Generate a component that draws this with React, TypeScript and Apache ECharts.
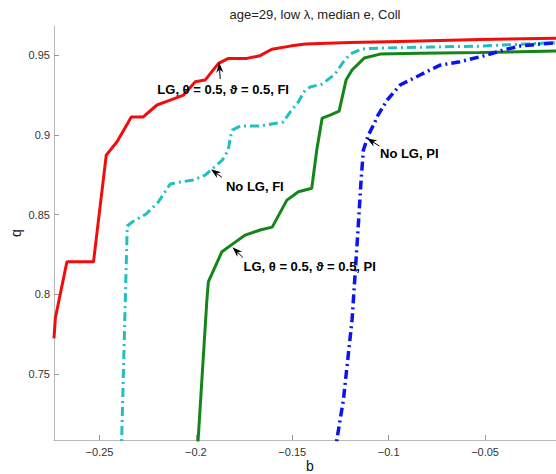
import React, { useEffect, useRef } from 'react';
import * as echarts from 'echarts';

const titleText = 'age=29, low λ, median e, Coll';
const xName = 'b';
const yName = 'q';
const xTicks = [-0.25, -0.2, -0.15, -0.1, -0.05];
const yTicks = [0.75, 0.8, 0.85, 0.9, 0.95];
const xMin = -0.2736;
const xMax = -0.0132;
const yMin = 0.7088;
const yMax = 0.9682;

// LG, theta=0.5, vartheta=0.5, FI (red)
const redB = [-0.2736, -0.2729, -0.2669, -0.2531, -0.2465, -0.2409, -0.2335, -0.2273, -0.2202, -0.2133, -0.2064, -0.2003, -0.1952, -0.1883, -0.1831, -0.1736, -0.1667, -0.1606, -0.1511, -0.1433, -0.12, -0.0941, -0.0526, -0.0132];
const redQ = [0.7725, 0.7852, 0.8205, 0.8205, 0.8873, 0.8957, 0.9112, 0.9112, 0.9187, 0.9218, 0.9249, 0.9333, 0.9343, 0.9448, 0.9479, 0.9479, 0.9496, 0.9536, 0.9556, 0.9569, 0.9578, 0.9585, 0.9597, 0.9605];

// No LG, FI (cyan)
const cyanB = [-0.2387, -0.2356, -0.2330, -0.2258, -0.2195, -0.2133, -0.2081, -0.2014, -0.1952, -0.1910, -0.1863, -0.1832, -0.1822, -0.1811, -0.1770, -0.1666, -0.1547, -0.1511, -0.1469, -0.1433, -0.1407, -0.1345, -0.1278, -0.1236, -0.12, -0.1138, -0.1044, -0.0785, -0.0526, -0.0132];
const cyanQ = [0.70, 0.8429, 0.8454, 0.8504, 0.8579, 0.8692, 0.8704, 0.8717, 0.8748, 0.8792, 0.8842, 0.8905, 0.898, 0.903, 0.9055, 0.9055, 0.908, 0.9143, 0.9206, 0.9281, 0.93, 0.9318, 0.9381, 0.9456, 0.9506, 0.9538, 0.9544, 0.955, 0.9556, 0.9578];

// LG, theta=0.5, vartheta=0.5, PI (green)
const greenB = [-0.1993, -0.1943, -0.1935, -0.1865, -0.1805, -0.1744, -0.1667, -0.1604, -0.1528, -0.1468, -0.1399, -0.1373, -0.1345, -0.1304, -0.1257, -0.1221, -0.119, -0.1127, -0.1044, -0.0837, -0.0526, -0.0132];
const greenQ = [0.70, 0.7965, 0.808, 0.8268, 0.832, 0.8372, 0.8404, 0.8422, 0.8591, 0.8643, 0.8665, 0.8905, 0.9105, 0.9124, 0.9149, 0.9343, 0.9406, 0.9481, 0.9506, 0.9511, 0.9516, 0.9525];

// No LG, PI (blue)
const blueB = [-0.1281, -0.1235, -0.119, -0.1159, -0.1143, -0.1131, -0.1105, -0.1079, -0.1055, -0.1008, -0.0941, -0.0837, -0.0733, -0.063, -0.049, -0.0406, -0.0318, -0.0215, -0.0132];
const blueQ = [0.70, 0.7338, 0.784, 0.8404, 0.8717, 0.8905, 0.8999, 0.9061, 0.9124, 0.9218, 0.9312, 0.9375, 0.9437, 0.9458, 0.95, 0.9531, 0.9556, 0.9569, 0.9577];

// annotations (data coordinates)
const annText = ['LG, θ = 0.5, ϑ = 0.5, FI', 'No LG, FI', 'LG, θ = 0.5, ϑ = 0.5, PI', 'No LG, PI'];
const annTipB = [-0.1879, -0.1922, -0.1810, -0.1113];
const annTipQ = [0.9453, 0.8784, 0.8295, 0.8978];
const annTailB = [-0.1874, -0.1865, -0.1756, -0.1048];
const annTailQ = [0.9350, 0.8734, 0.8232, 0.8930];
const annTextB = [-0.2200, -0.1844, -0.1753, -0.1045];
const annTextQ = [0.9281, 0.8679, 0.8178, 0.8884];

const FONT = '"Liberation Sans", Arial, Helvetica, sans-serif';

const zip = (a: number[], b: number[]) => a.map((v, i) => [v, b[i]]);
const fmt = (v: number) => (v < 0 ? '\u2212' : '') + String(Math.abs(Math.round(v * 1000) / 1000));

export default function App() {
  const ref = useRef<HTMLDivElement>(null);
  useEffect(() => {
    document.body.style.margin = '0';
    const chart = echarts.init(ref.current!, undefined, { renderer: 'svg', width: 556, height: 474 });
    const axisCommon = {
      type: 'value',
      nameLocation: 'middle',
      nameMoveOverlap: false,
      axisLine: { show: true, onZero: false, lineStyle: { color: '#b8b8b8', width: 1 } },
      splitLine: { show: false },
    };
    chart.setOption({
      animation: false,
      backgroundColor: '#ffffff',
      title: {
        text: titleText,
        left: 310,
        top: 3,
        textAlign: 'center',
        textStyle: { fontFamily: FONT, fontSize: 13, fontWeight: 'normal', color: '#222' },
      },
      grid: { left: 54, top: 26, right: 0, bottom: 34, containLabel: false, outerBoundsMode: 'none' },
      xAxis: {
        ...axisCommon,
        min: xMin,
        max: xMax,
        name: xName,
        nameGap: 18,
        nameTextStyle: { fontFamily: FONT, fontSize: 14, color: '#111', padding: [0, 0, 0, 10], lineHeight: 16 },
        axisTick: { show: true, inside: true, length: 5, customValues: xTicks, lineStyle: { color: '#999' } },
        axisLabel: { customValues: xTicks, formatter: fmt, fontFamily: FONT, fontSize: 11, color: '#333', margin: 6 },
      },
      yAxis: {
        ...axisCommon,
        min: yMin,
        max: yMax,
        name: yName,
        nameGap: 31,
        nameTextStyle: { fontFamily: FONT, fontSize: 14, color: '#111' },
        axisTick: { show: true, inside: true, length: 5, customValues: yTicks, lineStyle: { color: '#999' } },
        axisLabel: { customValues: yTicks, formatter: fmt, fontFamily: FONT, fontSize: 11, color: '#333', margin: 4 },
      },
      series: [
        { type: 'line', name: 'LG FI', data: zip(redB, redQ), showSymbol: false, clip: true, lineStyle: { color: '#f20d0d', width: 3 } },
        { type: 'line', name: 'LG PI', data: zip(greenB, greenQ), showSymbol: false, clip: true, lineStyle: { color: '#14851a', width: 3 } },
        { type: 'line', name: 'No LG FI', data: zip(cyanB, cyanQ), showSymbol: false, clip: true, lineStyle: { color: '#1fc0c0', width: 3, type: [9, 4, 2, 4] } },
        { type: 'line', name: 'No LG PI', data: zip(blueB, blueQ), showSymbol: false, clip: true, lineStyle: { color: '#0a14ee', width: 3.5, type: [9, 4, 2, 4] } },
      ],
    });

    const graphics: any[] = [];
    annText.forEach((t, i) => {
      const tip = chart.convertToPixel({ gridIndex: 0 }, [annTipB[i], annTipQ[i]]) as number[];
      const tail = chart.convertToPixel({ gridIndex: 0 }, [annTailB[i], annTailQ[i]]) as number[];
      const pos = chart.convertToPixel({ gridIndex: 0 }, [annTextB[i], annTextQ[i]]) as number[];
      const dx = tip[0] - tail[0];
      const dy = tip[1] - tail[1];
      const L = Math.hypot(dx, dy) || 1;
      const ux = dx / L, uy = dy / L;
      const px = -uy, py = ux;
      const hl = 10, hw = 3.5, notch = 7;
      const bx = tip[0] - ux * hl, by = tip[1] - uy * hl;
      graphics.push({
        type: 'line',
        shape: { x1: tail[0], y1: tail[1], x2: tip[0] - ux * notch, y2: tip[1] - uy * notch },
        style: { stroke: '#000', lineWidth: 1 },
        z: 100,
      });
      graphics.push({
        type: 'polygon',
        shape: {
          points: [
            [tip[0], tip[1]],
            [bx + px * hw, by + py * hw],
            [tip[0] - ux * notch, tip[1] - uy * notch],
            [bx - px * hw, by - py * hw],
          ],
        },
        style: { fill: '#000' },
        z: 100,
      });
      graphics.push({
        type: 'text',
        x: pos[0],
        y: pos[1],
        style: {
          text: t,
          fontFamily: FONT,
          fontSize: 13,
          fontWeight: 'bold',
          fill: '#000',
          align: 'left',
          verticalAlign: 'middle',
        },
        z: 100,
      });
    });
    chart.setOption({ graphic: graphics });

    return () => {
      chart.dispose();
    };
  }, []);
  return <div ref={ref} style={{ position: 'absolute', left: 0, top: 0, width: 556, height: 474, background: '#fff' }} />;
}
